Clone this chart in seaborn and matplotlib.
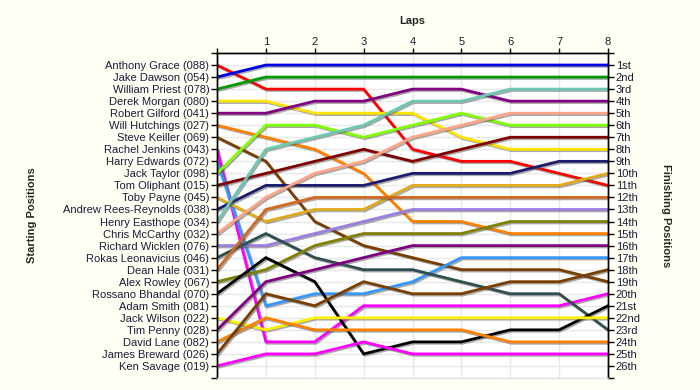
import matplotlib.pyplot as plt
import matplotlib.patheffects as pe
import pandas as pd
import seaborn as sns

# drivers in starting grid order
drivers = ['Anthony Grace (088)', 'Jake Dawson (054)', 'William Priest (078)', 'Derek Morgan (080)',
           'Robert Gilford (041)', 'Will Hutchings (027)', 'Steve Keiller (069)', 'Rachel Jenkins (043)',
           'Harry Edwards (072)', 'Jack Taylor (098)', 'Tom Oliphant (015)', 'Toby Payne (045)',
           'Andrew Rees-Reynolds (038)', 'Henry Easthope (034)', 'Chris McCarthy (032)',
           'Richard Wicklen (076)', 'Rokas Leonavicius (046)', 'Dean Hale (031)', 'Alex Rowley (067)',
           'Rossano Bhandal (070)', 'Adam Smith (081)', 'Jack Wilson (022)', 'Tim Penny (028)',
           'David Lane (082)', 'James Breward (026)', 'Ken Savage (019)']
colors = ['#FF0000', '#0000E6', '#009A00', '#FFE400', '#800080', '#FF7F00', '#7A3E00', '#FF00FF',
          '#3399FF', '#80FF00', '#800000', '#E0AC1C', '#1C1C6E', '#6CC8B0', '#FFA585', '#9A7FE0',
          '#2F4F4F', '#D2691E', '#808000', '#000000', '#999999', '#FFF000', '#800080', '#FF7F00',
          '#7A3E00', '#FF00FF']

# position of each driver after each lap (None = no lap recorded)
lap0 = [1, 2, 3, 4, 5, 6, 7, 8, 9, 10, 11, 12, 13, 14, 15, 16, 17, 18, 19, 20, None, 22, 23, 24, 25, 26]
lap1 = [3, 1, 2, 4, 5, 7, 9, 24, 21, 6, 10, 14, 11, 8, 12, 16, 15, 13, 18, 17, None, 23, 19, 22, 20, 25]
lap2 = [3, 1, 2, 5, 4, 8, 14, 24, 20, 6, 9, 13, 11, 7, 10, 15, 17, 12, 16, 19, None, 22, 18, 23, 21, 25]
lap3 = [3, 1, 2, 5, 4, 10, 16, 21, 20, 7, 8, 13, 11, 6, 9, 14, 18, 12, 15, 25, None, 22, 17, 23, 19, 24]
lap4 = [8, 1, 2, 5, 3, 14, 17, 21, 19, 6, 9, 11, 10, 4, 7, 13, 18, 12, 15, 24, None, 22, 16, 23, 20, 25]
lap5 = [9, 1, 2, 7, 3, 14, 18, 21, 17, 5, 8, 11, 10, 4, 6, 13, 19, 12, 15, 24, None, 22, 16, 23, 20, 25]
lap6 = [9, 1, 2, 8, 4, 15, 18, 21, 17, 6, 7, 11, 10, 3, 5, 13, 20, 12, 14, 23, None, 22, 16, 24, 19, 25]
lap7 = [10, 1, 2, 8, 4, 15, 18, 21, 17, 6, 7, 11, 9, 3, 5, 13, 20, 12, 14, 23, None, 22, 16, 24, 19, 25]
lap8 = [11, 1, 2, 8, 4, 15, 19, 20, 17, 6, 7, 10, 9, 3, 5, 13, 23, 12, 14, 21, None, 22, 16, 24, 18, 25]
laps = [lap0, lap1, lap2, lap3, lap4, lap5, lap6, lap7, lap8]

finish_labels = ['1st', '2nd', '3rd'] + ['%dth' % i for i in range(4, 21)] + \
                ['21st', '22nd', '23rd', '24th', '25th', '26th']

rows = []
for lap_no, lap in enumerate(laps):
    for name, pos in zip(drivers, lap):
        if pos is not None:
            rows.append({'lap': lap_no, 'pos': pos, 'driver': name})
df = pd.DataFrame(rows)

sns.set_style('white')
plt.rcParams['font.family'] = ['Liberation Sans', 'DejaVu Sans']

fig = plt.figure(figsize=(7, 3.9), dpi=100, facecolor='#FFFFF4')
ax = fig.add_axes([217 / 700, 12 / 390, 391 / 700, 325 / 390])
ax.set_facecolor('white')

sns.lineplot(data=df, x='lap', y='pos', hue='driver', hue_order=drivers,
             palette=dict(zip(drivers, colors)), estimator=None, legend=False,
             linewidth=2, ax=ax)
for line in ax.lines:
    line.set_path_effects([pe.SimpleLineShadow(offset=(1, -1), shadow_color='#555555', alpha=0.5),
                           pe.Normal()])
    line.set_solid_joinstyle('miter')

ax.set_xlim(0, 8)
ax.set_ylim(27, 0)
ax.xaxis.tick_top()
ax.xaxis.set_label_position('top')
ax.set_xticks(range(9))
ax.set_xticklabels([''] + [str(i) for i in range(1, 9)])
ax.set_yticks(range(28))
ax.set_yticklabels([''] + drivers + [''])
ax.grid(True, color='#E8E8E8', linewidth=1)
ax.set_axisbelow(True)
ax.tick_params(direction='out', length=4, width=1, color='black', labelsize=8,
               labelcolor='#1E1A38', pad=1.5)
ax.tick_params(axis='x', length=3.5, pad=1)

ax2 = ax.twinx()
ax2.set_ylim(27, 0)
ax2.set_yticks(range(28))
ax2.set_yticklabels([''] + finish_labels + [''])
ax2.tick_params(direction='out', length=4, width=1, color='black', labelsize=8,
                labelcolor='#1E1A38', pad=1.5)

for a in (ax, ax2):
    for side in ('top', 'left', 'right'):
        a.spines[side].set_color('black')
        a.spines[side].set_linewidth(1)
    a.spines['bottom'].set_color('#E0E0E0')

ax.set_xlabel('Laps', fontweight='bold', fontsize=8)
ax.xaxis.set_label_coords(0.5, (378 - 24) / 325)
ax.set_ylabel('Starting Positions', fontweight='bold', fontsize=8)
ax.yaxis.set_label_coords((37 - 217) / 391, 0.5)
ax2.set_ylabel('Finishing Positions', fontweight='bold', fontsize=8, rotation=270, va='center')
ax2.yaxis.set_label_coords((666 - 217) / 391, 0.5)

fig.savefig('out.png', dpi=100, facecolor=fig.get_facecolor())
